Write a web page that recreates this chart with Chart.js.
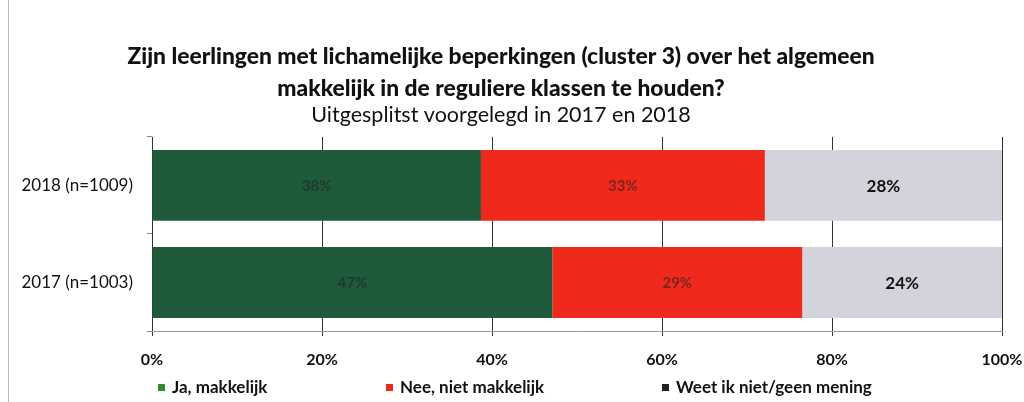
<!DOCTYPE html>
<html lang="nl">
<head>
    <meta charset="UTF-8">
    <title>Lichamelijke beperkingen</title>
    <script src="https://cdn.jsdelivr.net/npm/chart.js@4.4.1/dist/chart.umd.min.js"></script>
    <style>
        * { margin: 0; padding: 0; box-sizing: border-box; }
        body { background: #fff; width: 1024px; height: 402px; overflow: hidden; font-family: Lato, 'Open Sans', sans-serif; }
        .wrap { position: relative; width: 1024px; height: 402px; }
        .edge { position: absolute; left: 8px; top: 0; bottom: 0; width: 1px; background: #b8b8b8; }
        .legend { position: absolute; top: 376px; left: 0; width: 1024px; height: 22px; font-size: 17px; font-weight: bold; color: #111; }
        .legend span { position: absolute; white-space: nowrap; line-height: 22px; }
        .legend i { position: absolute; top: 8px; width: 7px; height: 7px; }
    </style>
</head>
<body>
    <div class="wrap">
        <canvas id="chart" width="1024" height="402"></canvas>
        <div class="edge"></div>
        <div class="legend" id="legend"></div>
    </div>

    <script>
        // data
        const years = ['2018 (n=1009)', '2017 (n=1003)'];
        const seriesNames = ['Ja, makkelijk', 'Nee, niet makkelijk', 'Weet ik niet/geen mening'];
        const ja = [38.7, 47.1];
        const nee = [33.4, 29.4];
        const weetNiet = [27.9, 23.5];
        const shownLabels = [['38%', '47%'], ['33%', '29%'], ['28%', '24%']];
        const xTicks = [0, 20, 40, 60, 80, 100];

        const colors = ['#1f5b3b', '#ef2a1d', '#d3d3db'];
        const legendMarks = ['#2e8b3a', '#ef2a1d', '#222'];
        const legendLeft = [172, 400, 676];

        // values inside the bars
        const barLabels = {
            id: 'barLabels',
            afterDatasetsDraw(chart) {
                const ctx = chart.ctx;
                ctx.save();
                ctx.textAlign = 'center';
                ctx.textBaseline = 'middle';
                chart.data.datasets.forEach((ds, i) => {
                    chart.getDatasetMeta(i).data.forEach((bar, j) => {
                        const p = bar.getProps(['x', 'base', 'y'], true);
                        if (i < 2) {
                            ctx.fillStyle = 'rgba(30,30,30,0.55)';
                            ctx.font = 'bold 15px Lato';
                        } else {
                            ctx.fillStyle = '#111';
                            ctx.font = 'bold 17px Lato';
                        }
                        ctx.fillText(shownLabels[i][j], (p.x + p.base) / 2, p.y + 1);
                    });
                });
                ctx.restore();
            }
        };

        new Chart(document.getElementById('chart'), {
            type: 'bar',
            data: {
                labels: years,
                datasets: [
                    { label: seriesNames[0], data: ja, backgroundColor: colors[0] },
                    { label: seriesNames[1], data: nee, backgroundColor: colors[1] },
                    { label: seriesNames[2], data: weetNiet, backgroundColor: colors[2] }
                ]
            },
            options: {
                indexAxis: 'y',
                responsive: false,
                animation: false,
                datasets: { bar: { categoryPercentage: 1, barPercentage: 0.73 } },
                layout: { padding: { left: 0, right: 22, top: 0, bottom: 0 } },
                plugins: {
                    legend: { display: false },
                    tooltip: { enabled: false },
                    title: {
                        display: true,
                        text: ['Zijn leerlingen met lichamelijke beperkingen (cluster 3) over het algemeen', 'makkelijk in de reguliere klassen te houden?'],
                        color: '#111',
                        font: { family: 'Lato', size: 22.8, weight: '900', lineHeight: 1.38 },
                        padding: { top: 41, bottom: 0 }
                    },
                    subtitle: {
                        display: true,
                        text: 'Uitgesplitst voorgelegd in 2017 en 2018',
                        color: '#111',
                        font: { family: 'Lato', size: 21.5, lineHeight: 1.07 },
                        padding: { top: 0, bottom: 10 }
                    }
                },
                scales: {
                    x: {
                        stacked: true,
                        min: 0,
                        max: 100,
                        afterBuildTicks: (s) => { s.ticks = xTicks.map(v => ({ value: v })); },
                        ticks: {
                            callback: v => v + '%',
                            color: '#111',
                            font: { family: 'Lato', size: 16, weight: 'bold' },
                            padding: 14,
                            maxRotation: 0
                        },
                        grid: { color: '#333', lineWidth: 1, tickLength: 5 },
                        border: { display: true, color: '#999' },
                        afterFit: (s) => { s.height = 71; s.paddingRight = 0; s.paddingLeft = 0; }
                    },
                    y: {
                        stacked: true,
                        ticks: {
                            color: '#111',
                            font: { family: 'Lato', size: 17 },
                            padding: 14
                        },
                        grid: { offset: true, drawOnChartArea: false, tickLength: 5, color: '#888' },
                        border: { display: false },
                        afterFit: (s) => { s.width = 152; }
                    }
                }
            },
            plugins: [barLabels]
        });

        // legend under the axis
        const leg = document.getElementById('legend');
        seriesNames.forEach((name, i) => {
            const s = document.createElement('span');
            s.style.left = legendLeft[i] + 'px';
            s.innerHTML = '<i style="left:-14px;background:' + legendMarks[i] + '"></i>' + name;
            leg.appendChild(s);
        });
    </script>
</body>
</html>
